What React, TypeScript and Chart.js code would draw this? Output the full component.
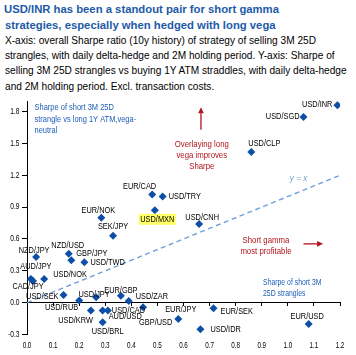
import React, { useEffect, useRef } from 'react';
import { Chart, registerables } from 'chart.js';

Chart.register(...registerables);

// ---------- data ----------
const pairs = [
  'USD/INR', 'USD/SGD', 'USD/CLP', 'USD/CNH', 'EUR/CAD', 'USD/TRY', 'USD/MXN', 'EUR/NOK',
  'SEK/JPY', 'NZD/JPY', 'NZD/USD', 'GBP/JPY', 'USD/TWD', 'AUD/JPY', 'CAD/JPY', 'USD/NOK',
  'USD/SEK', 'USD/RUB', 'USD/JPY', 'EUR/GBP', 'USD/ZAR', 'GBP/USD', 'USD/KRW', 'AUD/USD',
  'USD/CAD', 'USD/BRL', 'EUR/JPY', 'USD/IDR', 'EUR/SEK', 'EUR/USD',
];
// X: Sharpe of selling 3M 25D strangles
const sharpeShortStrangle = [
  1.19, 1.06, 0.86, 0.66, 0.48, 0.52, 0.49, 0.285,
  0.33, 0.035, 0.16, 0.17, 0.22, 0.015, 0.023, 0.066,
  0.14, 0.2, 0.265, 0.36, 0.39, 0.445, 0.245, 0.29,
  0.31, 0.29, 0.58, 0.665, 0.715, 1.08,
];
// Y: Sharpe of short 3M 25D strangle vs long 1Y ATM (vega-neutral)
const sharpeVegaNeutral = [
  1.86, 1.75, 1.42, 0.74, 1.02, 1.0, 0.87, 0.8,
  0.63, 0.43, 0.46, 0.4, 0.38, 0.224, 0.205, 0.224,
  0.073, 0.02, 0.05, 0.066, 0.016, -0.043, -0.075, -0.075,
  -0.075, -0.185, -0.155, -0.25, -0.053, -0.2,
];
const highlighted = ['USD/MXN'];
const xTicks = [0, 0.1, 0.2, 0.3, 0.4, 0.5, 0.6, 0.7, 0.8, 0.9, 1.0, 1.1, 1.2];
const yTicks = [-0.3, 0, 0.3, 0.6, 0.9, 1.2, 1.5, 1.8];
const identityLine = [0, 1.2];

// ---------- styling / placement ----------
const MARKER_BLUE = '#0d4ea6';
const TEXT_BLUE = '#1f5fb8';
const TITLE_BLUE = '#1d5aa8';
const DASH_BLUE = '#6e9fd9';
const RED = '#b3141c';
const FONT = '"Liberation Sans", Arial, sans-serif';

type Align = 'left' | 'right' | 'center';
const labelPlacement: Record<string, [Align, number, number]> = {
  'USD/INR': ['right', -5, -1],
  'USD/SGD': ['right', -4, 0],
  'USD/CLP': ['left', -3, -8],
  'USD/CNH': ['center', 3, -7],
  'EUR/CAD': ['right', 4, -8],
  'USD/TRY': ['left', 6, 0],
  'USD/MXN': ['center', 2.5, 9],
  'EUR/NOK': ['center', -3, -7],
  'SEK/JPY': ['center', 0, -9],
  'NZD/JPY': ['center', -2, -7],
  'NZD/USD': ['center', -1, -8],
  'GBP/JPY': ['left', 5, -7],
  'USD/TWD': ['left', 6, 0],
  'AUD/JPY': ['center', 5, -12],
  'CAD/JPY': ['center', -5, 6],
  'USD/NOK': ['left', 9, -4],
  'USD/SEK': ['right', -5, 2],
  'USD/RUB': ['right', -1, 7],
  'USD/JPY': ['center', -2, -3],
  'EUR/GBP': ['center', 0, -5],
  'USD/ZAR': ['left', 7, -4],
  'GBP/USD': ['left', -4, 15],
  'USD/KRW': ['right', 2, 10],
  'AUD/USD': ['left', 6, 6],
  'USD/CAD': ['left', 4, 0],
  'USD/BRL': ['center', 5, 9],
  'EUR/JPY': ['center', 2.5, -9.5],
  'USD/IDR': ['left', 10, 0],
  'EUR/SEK': ['left', 7, 3],
  'EUR/USD': ['center', -1.5, -7],
};

type Note = { lines: string[]; x: number; y: number; align: Align; color: string; size: number; sx: number; lh: number; italic?: boolean };
const notes: Note[] = [
  { lines: ['Sharpe of short 3M 25D', 'strangle vs long 1Y ATM,vega-', 'neutral'], x: 0.029, y: 1.84, align: 'left', color: TEXT_BLUE, size: 9, sx: 0.83, lh: 11.8 },
  { lines: ['Overlaying long', 'vega improves', 'Sharpe'], x: 0.67, y: 1.494, align: 'center', color: RED, size: 9.5, sx: 0.82, lh: 11 },
  { lines: ['Short gamma', 'most profitable'], x: 0.916, y: 0.585, align: 'center', color: RED, size: 9.5, sx: 0.82, lh: 11 },
  { lines: ['Sharpe of short 3M', '25D strangles'], x: 0.905, y: 0.192, align: 'left', color: TEXT_BLUE, size: 8.8, sx: 0.78, lh: 11 },
  { lines: ['y = x'], x: 1.041, y: 1.174, align: 'center', color: DASH_BLUE, size: 9, sx: 0.9, lh: 10, italic: true },
];
const arrows = [
  { from: [0.667, 1.63], to: [0.667, 1.84] },
  { from: [1.06, 0.554], to: [1.135, 0.554] },
];

function drawNarrow(ctx: CanvasRenderingContext2D, text: string, x: number, y: number, align: Align, sx: number) {
  ctx.save();
  ctx.translate(x, y);
  ctx.scale(sx, 1);
  ctx.textAlign = align;
  ctx.textBaseline = 'middle';
  ctx.fillText(text, 0, 0);
  ctx.restore();
}

const textPlugin = {
  id: 'textPlugin',
  afterDraw(chart: any) {
    const ctx: CanvasRenderingContext2D = chart.ctx;
    const xs = chart.scales.x;
    const ys = chart.scales.y;
    const area = chart.chartArea;

    // tick labels
    ctx.fillStyle = '#000';
    ctx.font = `8.5px ${FONT}`;
    yTicks.forEach((v) => {
      drawNarrow(ctx, v.toFixed(1), area.left - 7.5, ys.getPixelForValue(v), 'right', 0.78);
    });
    xTicks.forEach((v) => {
      drawNarrow(ctx, v.toFixed(1), xs.getPixelForValue(v), area.bottom + 11.5, 'center', 0.74);
    });

    // point labels
    const meta = chart.getDatasetMeta(1);
    ctx.font = `9px ${FONT}`;
    pairs.forEach((p, i) => {
      const el = meta.data[i];
      const [align, dx, dy] = labelPlacement[p];
      const tx = el.x + dx;
      const ty = el.y + dy;
      if (highlighted.includes(p)) {
        const w = ctx.measureText(p).width * 0.82 + 3;
        let left = tx - w / 2;
        if (align === 'left') left = tx - 1.5;
        if (align === 'right') left = tx - w + 1.5;
        ctx.fillStyle = '#ffff66';
        ctx.fillRect(left, ty - 5.5, w, 11);
      }
      ctx.fillStyle = '#000';
      drawNarrow(ctx, p, tx, ty, align, 0.82);
    });

    // notes
    notes.forEach((n) => {
      ctx.fillStyle = n.color;
      ctx.font = `${n.italic ? 'italic ' : ''}${n.size}px ${FONT}`;
      const px = xs.getPixelForValue(n.x);
      const py = ys.getPixelForValue(n.y);
      n.lines.forEach((l, k) => drawNarrow(ctx, l, px, py + k * n.lh, n.align, n.sx));
    });

    // arrows
    ctx.save();
    ctx.strokeStyle = RED;
    ctx.fillStyle = RED;
    ctx.lineWidth = 1.3;
    arrows.forEach((a) => {
      const x1 = xs.getPixelForValue(a.from[0]);
      const y1 = ys.getPixelForValue(a.from[1]);
      const x2 = xs.getPixelForValue(a.to[0]);
      const y2 = ys.getPixelForValue(a.to[1]);
      const ang = Math.atan2(y2 - y1, x2 - x1);
      const hl = 6;
      const hw = 2.8;
      const bx = x2 - hl * Math.cos(ang);
      const by = y2 - hl * Math.sin(ang);
      ctx.beginPath();
      ctx.moveTo(x1, y1);
      ctx.lineTo(bx, by);
      ctx.stroke();
      ctx.beginPath();
      ctx.moveTo(x2, y2);
      ctx.lineTo(bx + hw * Math.sin(ang), by - hw * Math.cos(ang));
      ctx.lineTo(bx - hw * Math.sin(ang), by + hw * Math.cos(ang));
      ctx.closePath();
      ctx.fill();
    });
    ctx.restore();
  },
};

export default function App() {
  const ref = useRef<HTMLCanvasElement>(null);

  useEffect(() => {
    if (!ref.current) return;
    const chart = new Chart(ref.current, {
      type: 'scatter',
      data: {
        datasets: [
          {
            type: 'line',
            data: identityLine.map((v) => ({ x: v, y: v })),
            borderColor: DASH_BLUE,
            borderWidth: 1.4,
            borderDash: [5, 3.5],
            pointRadius: 0,
            fill: false,
            order: 2,
          } as any,
          {
            type: 'scatter',
            data: pairs.map((_, i) => ({ x: sharpeShortStrangle[i], y: sharpeVegaNeutral[i] })),
            pointStyle: 'rectRot',
            pointRadius: 4,
            backgroundColor: MARKER_BLUE,
            borderWidth: 0,
            order: 1,
          } as any,
        ],
      },
      options: {
        responsive: false,
        animation: false,
        layout: { padding: { top: 101, right: 16, bottom: 20.5, left: 0 } },
        plugins: { legend: { display: false }, tooltip: { enabled: false }, title: { display: false } },
        scales: {
          x: {
            type: 'linear',
            position: { y: 0 } as any,
            min: 0,
            max: 1.2,
            ticks: { display: false },
            afterBuildTicks: (s: any) => { s.ticks = xTicks.map((v) => ({ value: v })); },
            grid: { drawOnChartArea: false, drawTicks: true, tickLength: 3, color: '#000', lineWidth: 1 },
            border: { display: true, color: '#000', width: 1 },
          },
          y: {
            type: 'linear',
            position: 'left',
            min: -0.3,
            max: 1.9,
            ticks: { display: false },
            afterBuildTicks: (s: any) => { s.ticks = yTicks.map((v) => ({ value: v })); },
            afterFit: (s: any) => { s.width = 27; },
            grid: { drawOnChartArea: false, drawTicks: true, tickLength: 5, color: '#000', lineWidth: 1 },
            border: { display: true, color: '#000', width: 1 },
          },
        },
      } as any,
      plugins: [textPlugin],
    });
    return () => chart.destroy();
  }, []);

  return (
    <div style={{ position: 'absolute', left: 0, top: 0, width: 356, height: 355, overflow: 'hidden', background: '#fff' }}>
      <div
        style={{
          position: 'absolute',
          left: 4,
          top: 2.3,
          lineHeight: '15.3px',
          whiteSpace: 'nowrap',
          fontFamily: FONT,
        }}
      >
        <div style={{ fontWeight: 'bold', fontSize: 11.3, color: TITLE_BLUE }}>
          USD/INR has been a standout pair for short gamma
          <br />
          <span style={{ marginLeft: 1 }}>strategies, especially when hedged with long vega</span>
        </div>
        <div style={{ fontSize: 10.6, color: '#000', transform: 'scaleX(0.955)', transformOrigin: 'left top', marginLeft: 1 }}>
          X-axis: overall Sharpe ratio (10y history) of strategy of selling 3M 25D
          <br />
          strangles, with daily delta-hedge and 2M holding period. Y-axis: Sharpe of
          <br />
          selling 3M 25D strangles vs buying 1Y ATM straddles, with daily delta-hedge
          <br />
          and 2M holding period. Excl. transaction costs.
        </div>
      </div>
      <canvas ref={ref} width={356} height={355} style={{ position: 'absolute', left: 0, top: 0, width: 356, height: 355 }} />
    </div>
  );
}
